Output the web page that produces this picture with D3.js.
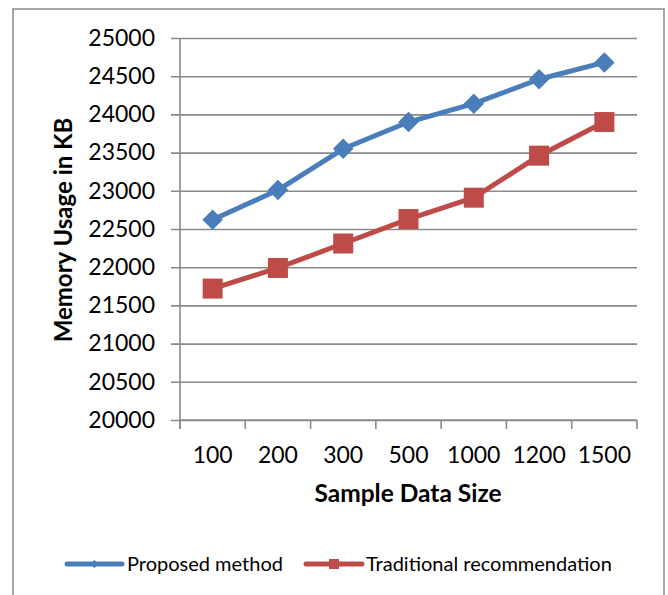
<!DOCTYPE html>
<html>
<head>
<meta charset="utf-8">
<script src="https://cdn.jsdelivr.net/npm/d3@7"></script>
<style>
  html, body { margin: 0; padding: 0; background: #fff; }
  svg { display: block; }
  text { font-family: Lato, "Open Sans", sans-serif; fill: #000; }
</style>
</head>
<body>
<svg id="chart" width="668" height="595"></svg>
<script>
const categories = ["100", "200", "300", "500", "1000", "1200", "1500"];
const proposed = [22620, 23010, 23550, 23900, 24140, 24460, 24680];
const traditional = [21720, 21990, 22310, 22630, 22910, 23460, 23900];
const yTicks = [20000, 20500, 21000, 21500, 22000, 22500, 23000, 23500, 24000, 24500, 25000];
const seriesNames = ["Proposed method", "Traditional recommendation"];
const seriesColors = ["#4a7ebb", "#be4b48"];

(function () {
const svg = d3.select("#chart");
const gridColor = "#8a8a8a";

// outer frame
svg.append("rect").attr("x", 13).attr("y", 9).attr("width", 651).attr("height", 600)
  .attr("fill", "#fff").attr("stroke", "#8a8a8a").attr("stroke-width", 1.5);

const pL = 180, pR = 637, pT = 38, pB = 420;
const x = d3.scaleBand().domain(categories).range([pL, pR]).paddingInner(0).paddingOuter(0);
const y = d3.scaleLinear().domain([20000, 25000]).range([pB, pT]);

// gridlines + y ticks
const yAxis = d3.axisLeft(y).tickValues(yTicks).tickSize(-(pR - pL)).tickPadding(25).tickFormat(d3.format("d"));
const gy = svg.append("g").attr("transform", `translate(${pL},0)`).call(yAxis);
gy.select(".domain").remove();
gy.selectAll(".tick line").attr("stroke", gridColor).attr("stroke-width", 1.6).attr("x1", -9);
gy.selectAll(".tick text").attr("font-size", 23).attr("font-family", "Lato, sans-serif").attr("fill", "#000");

// x axis
const gx = svg.append("g").attr("transform", `translate(0,${pB})`);
gx.append("line").attr("x1", pL).attr("x2", pR).attr("y1", 0).attr("y2", 0)
  .attr("stroke", gridColor).attr("stroke-width", 1.6);
const bounds = categories.map(c => x(c)).concat([x(categories[categories.length - 1]) + x.bandwidth()]);
gx.selectAll("line.xt").data(bounds).enter().append("line").attr("class", "xt")
  .attr("x1", d => d).attr("x2", d => d).attr("y1", 0).attr("y2", 9)
  .attr("stroke", gridColor).attr("stroke-width", 1.6);
gx.selectAll("text.xl").data(categories).enter().append("text").attr("class", "xl")
  .attr("x", d => x(d) + x.bandwidth() / 2).attr("y", 43)
  .attr("text-anchor", "middle").attr("font-size", 23).text(d => d);

// y axis line
svg.append("line").attr("x1", pL).attr("x2", pL).attr("y1", pT).attr("y2", pB + 9)
  .attr("stroke", gridColor).attr("stroke-width", 1.6);

// axis titles
svg.append("text").attr("transform", `translate(72,230) rotate(-90)`)
  .attr("text-anchor", "middle").attr("font-weight", "bold").attr("font-size", 24).text("Memory Usage in KB");
svg.append("text").attr("x", 408).attr("y", 502)
  .attr("text-anchor", "middle").attr("font-weight", "bold").attr("font-size", 24.5).text("Sample Data Size");

// series
const allSeries = [proposed, traditional];
const cxOf = i => x(categories[i]) + x.bandwidth() / 2;
const line = d3.line().x((d, i) => cxOf(i)).y(d => y(d));
allSeries.forEach((vals, si) => {
  svg.append("path").datum(vals).attr("d", line).attr("fill", "none")
    .attr("stroke", seriesColors[si]).attr("stroke-width", 5).attr("stroke-linejoin", "round");
  const size = si === 0 ? 210 : 400;
  svg.selectAll(null).data(vals).enter().append("path")
    .attr("d", d3.symbol().type(d3.symbolSquare).size(size))
    .attr("transform", (d, i) => `translate(${cxOf(i)},${y(d)})` + (si === 0 ? " rotate(45)" : ""))
    .attr("fill", seriesColors[si]);
});

// legend
const legendY = 564;
const legendItems = [
  { name: seriesNames[0], color: seriesColors[0], x1: 67, x2: 122, tx: 127, marker: "diamond" },
  { name: seriesNames[1], color: seriesColors[1], x1: 306, x2: 362, tx: 366, marker: "square" }
];
legendItems.forEach(it => {
  const g = svg.append("g");
  g.append("line").attr("x1", it.x1).attr("x2", it.x2).attr("y1", legendY).attr("y2", legendY)
    .attr("stroke", it.color).attr("stroke-width", 5).attr("stroke-linecap", "round");
  const cx = (it.x1 + it.x2) / 2;
  if (it.marker === "diamond") {
    g.append("path").attr("d", d3.symbol().type(d3.symbolSquare).size(32))
      .attr("transform", `translate(${cx},${legendY}) rotate(45)`).attr("fill", it.color);
  } else {
    g.append("path").attr("d", d3.symbol().type(d3.symbolSquare).size(100))
      .attr("transform", `translate(${cx},${legendY})`).attr("fill", it.color);
  }
  g.append("text").attr("x", it.tx).attr("y", legendY).attr("dy", "0.35em")
    .attr("font-size", 20).text(it.name);
});
})();
</script>
</body>
</html>
